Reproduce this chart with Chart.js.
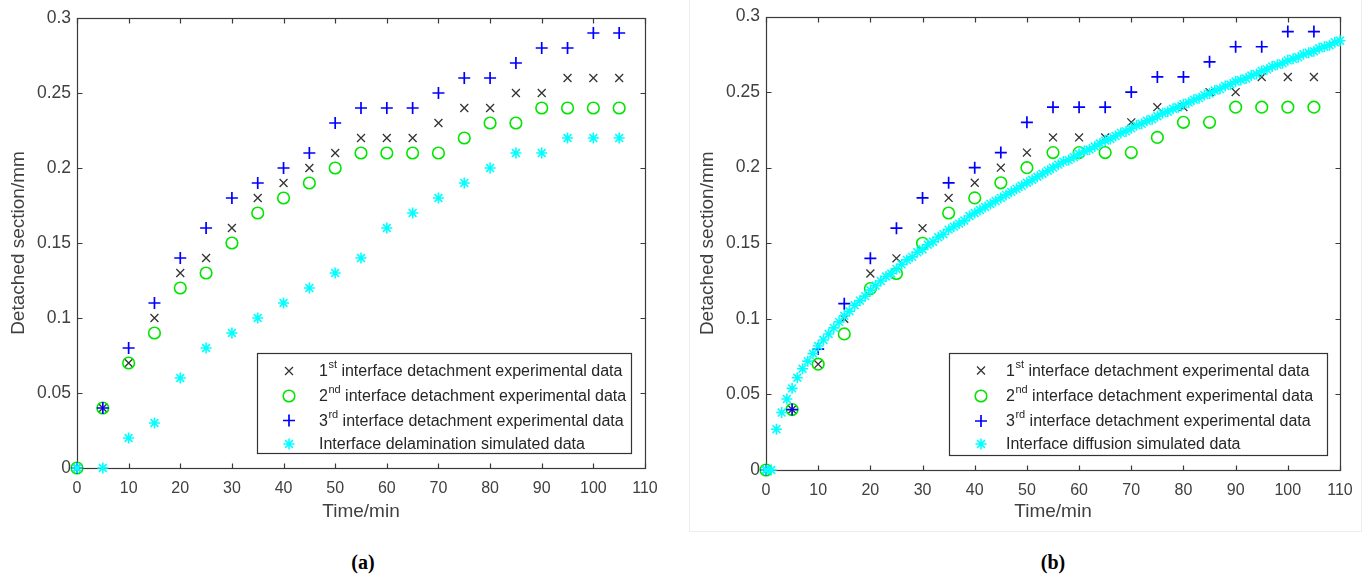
<!DOCTYPE html>
<html><head><meta charset="utf-8">
<script src="https://cdn.jsdelivr.net/npm/chart.js@4.4.1/dist/chart.umd.min.js"></script>
<style>
html,body{margin:0;padding:0;background:#fff;}
body{width:1369px;height:578px;overflow:hidden;position:relative;}
#wa{position:absolute;left:0;top:0;width:684px;height:540px;}
#wb{position:absolute;left:684px;top:0;width:685px;height:540px;}
#frameb{position:absolute;left:689px;top:-1px;width:671px;height:531px;border:1px solid #ededed;}
.cap{position:absolute;top:550px;width:100px;text-align:center;font:bold 20px "Liberation Serif","Times New Roman",serif;color:#000;line-height:24px;}
</style></head><body>
<div id="frameb"></div>
<div id="wa"><canvas id="ca"></canvas></div>
<div id="wb"><canvas id="cb"></canvas></div>
<div class="cap" style="left:313px;">(<span>a</span>)</div>
<div class="cap" style="left:1003px;">(<span>b</span>)</div>
<script>
// ---------- data ----------
const timeMin = [0,5,10,15,20,25,30,35,40,45,50,55,60,65,70,75,80,85,90,95,100,105];
const exp1 = [0,0.04,0.07,0.10,0.13,0.14,0.16,0.18,0.19,0.20,0.21,0.22,0.22,0.22,0.23,0.24,0.24,0.25,0.25,0.26,0.26,0.26];
const exp2 = [0,0.04,0.07,0.09,0.12,0.13,0.15,0.17,0.18,0.19,0.20,0.21,0.21,0.21,0.21,0.22,0.23,0.23,0.24,0.24,0.24,0.24];
const exp3 = [0,0.04,0.08,0.11,0.14,0.16,0.18,0.19,0.20,0.21,0.23,0.24,0.24,0.24,0.25,0.26,0.26,0.27,0.28,0.28,0.29,0.29];
const simDelamination = [0,0,0.02,0.03,0.06,0.08,0.09,0.10,0.11,0.12,0.13,0.14,0.16,0.17,0.18,0.19,0.20,0.21,0.21,0.22,0.22,0.22];
const simTime = [0,1,2,3,4,5,6,7,8,9,10,11,12,13,14,15,16,17,18,19,20,21,22,23,24,25,26,27,28,29,30,31,32,33,34,35,36,37,38,39,40,41,42,43,44,45,46,47,48,49,50,51,52,53,54,55,56,57,58,59,60,61,62,63,64,65,66,67,68,69,70,71,72,73,74,75,76,77,78,79,80,81,82,83,84,85,86,87,88,89,90,91,92,93,94,95,96,97,98,99,100,101,102,103,104,105,106,107,108,109,110];
const simDiffusion = [0,0,0.027,0.038,0.047,0.054,0.061,0.067,0.072,0.077,0.082,0.086,0.090,0.094,0.098,0.102,0.105,0.109,0.112,0.115,0.119,0.122,0.125,0.128,0.130,0.133,0.136,0.139,0.141,0.144,0.146,0.149,0.151,0.154,0.156,0.159,0.161,0.163,0.165,0.168,0.170,0.172,0.174,0.176,0.178,0.180,0.182,0.184,0.186,0.188,0.190,0.192,0.194,0.196,0.198,0.200,0.202,0.204,0.205,0.207,0.209,0.211,0.212,0.214,0.216,0.218,0.219,0.221,0.223,0.224,0.226,0.228,0.229,0.231,0.232,0.234,0.236,0.237,0.239,0.240,0.242,0.243,0.245,0.246,0.248,0.249,0.251,0.252,0.254,0.255,0.257,0.258,0.259,0.261,0.262,0.264,0.265,0.267,0.268,0.269,0.271,0.272,0.273,0.275,0.276,0.277,0.279,0.280,0.281,0.283,0.284];
const xTickValues = [0,10,20,30,40,50,60,70,80,90,100,110];
const xTickLabels = ['0','10','20','30','40','50','60','70','80','90','100','110'];
const yTickValues = [0,0.05,0.1,0.15,0.2,0.25,0.3];
const yTickLabels = ['0','0.05','0.1','0.15','0.2','0.25','0.3'];
const legendOrdinals = ['1','2','3'];
const legendSuperscripts = ['st','nd','rd'];
const legendExpText = ' interface detachment experimental data';
const legendSimTextA = 'Interface delamination simulated data';
const legendSimTextB = 'Interface diffusion simulated data';
const xTitle = 'Time/min';
const yTitle = 'Detached section/mm';

// ---------- styles ----------
const FONT = "'Liberation Sans', Arial, Helvetica, sans-serif";
const TXT = '#404040';
const S1 = {pointStyle:'crossRot', radius:5.6, color:'#333333', width:1.3};
const S2 = {pointStyle:'circle', radius:5.8, color:'#00e600', width:1.6};
const S3 = {pointStyle:'cross', radius:6, color:'#0000ff', width:1.7};
const S4 = {pointStyle:'star', radius:5.5, color:'#00ffff', width:1.6};

function pts(xs, ys){ return xs.map((x,i)=>({x:x, y:ys[i]})); }
function ds(label, xs, ys, st, order){
  return {label, data: pts(xs, ys), showLine:false, pointStyle:st.pointStyle,
    pointRadius:st.radius, pointHoverRadius:st.radius, pointBorderColor:st.color,
    pointBackgroundColor:'rgba(0,0,0,0)', pointBorderWidth:st.width, borderColor:st.color,
    backgroundColor:'rgba(0,0,0,0)', order, clip:false};
}

function drawMarker(ctx, st, x, y){
  ctx.save();
  ctx.strokeStyle = st.color; ctx.lineWidth = st.width;
  const r = st.radius;
  ctx.beginPath();
  if (st.pointStyle === 'circle') { ctx.arc(x, y, r, 0, Math.PI*2); }
  if (st.pointStyle === 'cross' || st.pointStyle === 'star') {
    ctx.moveTo(x-r, y); ctx.lineTo(x+r, y); ctx.moveTo(x, y-r); ctx.lineTo(x, y+r);
  }
  if (st.pointStyle === 'crossRot' || st.pointStyle === 'star') {
    const d = r*0.7071;
    ctx.moveTo(x-d, y-d); ctx.lineTo(x+d, y+d); ctx.moveTo(x-d, y+d); ctx.lineTo(x+d, y-d);
  }
  ctx.stroke();
  ctx.restore();
}

const boxPlugin = {
  id:'matBox',
  beforeDatasetsDraw(chart){
    const {ctx, chartArea:a, scales:{x, y}} = chart;
    ctx.save();
    ctx.strokeStyle = '#3a3a3a'; ctx.lineWidth = 1.2;
    const L = Math.round(a.left)+0.5, R = Math.round(a.right)+0.5, T = Math.round(a.top)+0.5, B = Math.round(a.bottom)+0.5;
    ctx.strokeRect(L, T, R-L, B-T);
    const len = 5;
    ctx.beginPath();
    xTickValues.forEach(v=>{ const p = Math.round(x.getPixelForValue(v))+0.5;
      ctx.moveTo(p, B); ctx.lineTo(p, B-len); ctx.moveTo(p, T); ctx.lineTo(p, T+len); });
    yTickValues.forEach(v=>{ const p = Math.round(y.getPixelForValue(v))+0.5;
      ctx.moveTo(L, p); ctx.lineTo(L+len, p); ctx.moveTo(R, p); ctx.lineTo(R-len, p); });
    ctx.stroke();
    ctx.restore();
  },
  afterDatasetsDraw(chart){
    const o = chart.options.plugins.matLegend;
    if (!o) return;
    const ctx = chart.ctx;
    ctx.save();
    ctx.fillStyle = '#fff';
    ctx.fillRect(o.box[0], o.box[1], o.box[2], o.box[3]);
    ctx.strokeStyle = '#333'; ctx.lineWidth = 1.2;
    ctx.strokeRect(Math.round(o.box[0])+0.5, Math.round(o.box[1])+0.5, Math.round(o.box[2]), Math.round(o.box[3]));
    const styles = [S1, S2, S3, S4];
    ctx.fillStyle = '#262626';
    ctx.textBaseline = 'middle'; ctx.textAlign = 'left';
    o.rows.forEach((ry, i)=>{
      drawMarker(ctx, styles[i], o.markerX, ry);
      let tx = o.textX;
      if (i < 3) {
        ctx.font = '16px ' + FONT;
        ctx.fillText(legendOrdinals[i], tx, ry+1); tx += ctx.measureText(legendOrdinals[i]).width;
        ctx.font = '11px ' + FONT;
        ctx.fillText(legendSuperscripts[i], tx+0.5, ry-6); tx += ctx.measureText(legendSuperscripts[i]).width + 0.5;
        ctx.font = '16px ' + FONT;
        ctx.fillText(legendExpText, tx, ry+1);
      } else {
        ctx.font = '16px ' + FONT;
        ctx.fillText(o.simText, tx, ry+1);
      }
    });
    ctx.restore();
  }
};

function makeChart(id, simX, simY, simLabel, geom){
  return new Chart(document.getElementById(id), {
    type:'scatter',
    data:{ datasets:[
      ds('1st interface detachment experimental data', timeMin, exp1, S1, 3),
      ds('2nd interface detachment experimental data', timeMin, exp2, S2, 2),
      ds('3rd interface detachment experimental data', timeMin, exp3, S3, 1),
      ds(simLabel, simX, simY, S4, 0)
    ]},
    options:{
      responsive:true, maintainAspectRatio:false, animation:false,
      layout:{padding:{top:geom.top, right:geom.right, left:0, bottom:0}},
      plugins:{ legend:{display:false}, tooltip:{enabled:false},
        matLegend:{box:geom.box, markerX:geom.markerX, textX:geom.textX, rows:geom.rows, simText:simLabel} },
      scales:{
        x:{ type:'linear', min:0, max:110,
          afterBuildTicks: s => { s.ticks = xTickValues.map(v=>({value:v})); },
          afterFit: s => { s.height = geom.xh; },
          grid:{display:false, drawTicks:false}, border:{display:false},
          ticks:{ autoSkip:false, maxRotation:0, padding:11, color:TXT, font:{family:FONT, size:16},
            callback:(v,i)=>xTickLabels[i] },
          title:{display:true, text:xTitle, color:TXT, font:{family:FONT, size:19}, padding:{top:0, bottom:geom.xtp}} },
        y:{ type:'linear', min:0, max:0.3,
          afterBuildTicks: s => { s.ticks = yTickValues.map(v=>({value:v})); },
          afterFit: s => { s.width = geom.yw; },
          grid:{display:false, drawTicks:false}, border:{display:false},
          ticks:{ autoSkip:false, padding:6, color:TXT, font:{family:FONT, size:17.5},
            callback:(v,i)=>yTickLabels[i] },
          title:{display:true, text:yTitle, color:TXT, font:{family:FONT, size:19}, padding:{top:geom.ytp, bottom:0}} }
      }
    },
    plugins:[boxPlugin]
  });
}

makeChart('ca', timeMin, simDelamination, legendSimTextA, {
  top:18, right:39, xh:72, yw:77, xtp:17, ytp:7,
  box:[257, 353, 374, 100], markerX:289, textX:319, rows:[371, 396, 420.5, 444]
});
makeChart('cb', simTime, simDiffusion, legendSimTextB, {
  top:15, right:29, xh:70, yw:82, xtp:17, ytp:12,
  box:[265, 353, 378, 102], markerX:297, textX:322, rows:[370.5, 396, 421, 444]
});
</script>
</body></html>
